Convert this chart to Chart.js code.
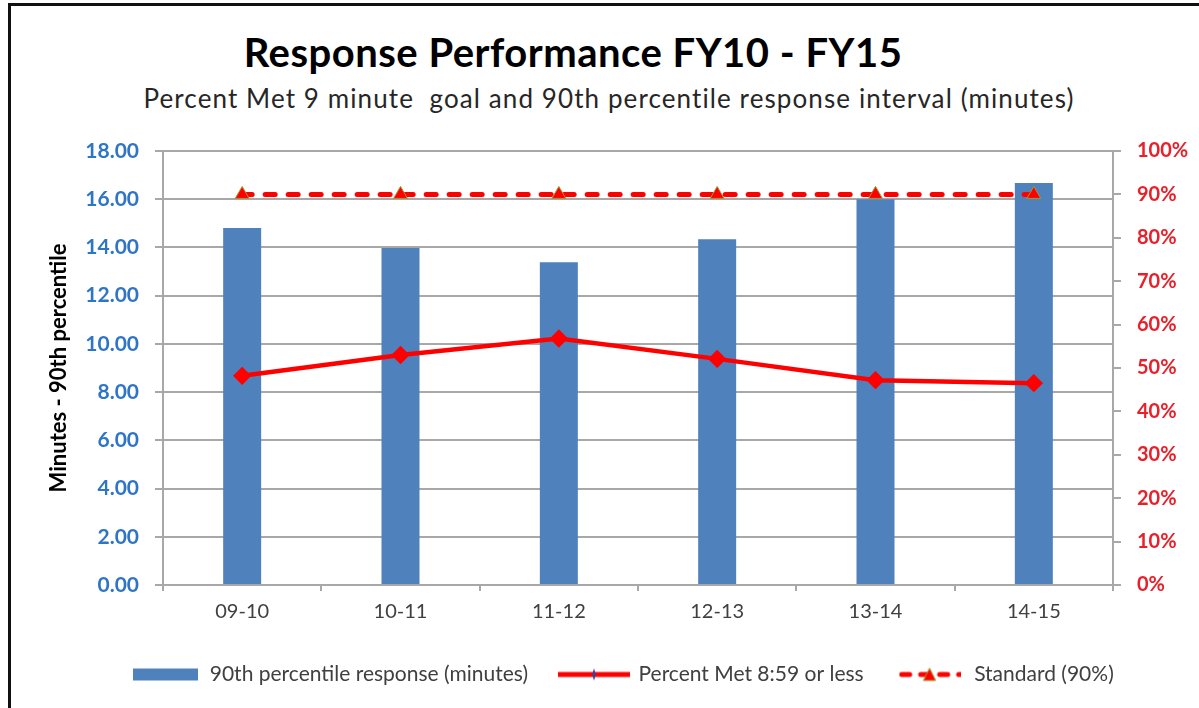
<!DOCTYPE html>
<html>
<head>
<meta charset="utf-8">
<script src="https://cdn.jsdelivr.net/npm/chart.js@4"></script>
<style>
  html, body { margin: 0; padding: 0; background: #fff; }
  #wrap { position: relative; width: 1199px; height: 708px; overflow: hidden; }
  #frame { position: absolute; left: 8px; top: 3px; width: 1300px; height: 800px;
           border-left: 3px solid #111; border-top: 3px solid #111; }
  .ttl { position: absolute; width: 1000px; text-align: center; font-family: Lato, sans-serif;
         line-height: 1.2; white-space: nowrap; }
  #title { left: 73px; top: 28px; font-size: 40px; font-weight: bold; color: #000; letter-spacing: 0.5px; }
  #subtitle { left: 109px; top: 83px; font-size: 26px; color: #262626; letter-spacing: 1.1px; }
  canvas { position: absolute; left: 0; top: 0; }
</style>
</head>
<body>
<div id="wrap">
  <div id="frame"></div>
  <div class="ttl" id="title">Response Performance FY10 - FY15</div>
  <div class="ttl" id="subtitle">Percent Met 9 minute&nbsp; goal and 90th percentile response interval (minutes)</div>
  <canvas id="comboChart" width="1199" height="708"></canvas>
</div>
<script>
// chart data
const categories = ['09-10', '10-11', '11-12', '12-13', '13-14', '14-15'];
const responseMinutes = [14.81, 13.98, 13.39, 14.34, 16.0, 16.67];
const percentMet = [48.2, 53.0, 56.8, 52.1, 47.2, 46.5];
const standardPct = [90, 90, 90, 90, 90, 90];
const seriesNames = ['90th percentile response (minutes)', 'Percent Met 8:59 or less', 'Standard (90%)'];

const BLUE = '#4f81bd';
const RED = '#ff0000';
const GRID = '#a8a8a8';

// little canvases for the legend icons
function legendIcon(w, h, draw) {
  const c = document.createElement('canvas');
  c.width = w; c.height = h;
  draw(c.getContext('2d'), w, h);
  return c;
}

const barIcon = legendIcon(65, 14, function (g, w, h) {
  g.fillStyle = BLUE;
  g.fillRect(0, 1, w, h - 2);
});

const lineIcon = legendIcon(72, 14, function (g, w, h) {
  g.strokeStyle = RED;
  g.lineWidth = 5;
  g.beginPath(); g.moveTo(0, h / 2); g.lineTo(w, h / 2); g.stroke();
  g.fillStyle = '#4a3d8f';
  g.beginPath();
  g.moveTo(w / 2, 1); g.lineTo(w / 2 + 2, h / 2); g.lineTo(w / 2, h - 1); g.lineTo(w / 2 - 2, h / 2);
  g.closePath(); g.fill();
});

const dashIcon = legendIcon(62, 16, function (g, w, h) {
  g.strokeStyle = RED;
  g.lineWidth = 5;
  g.lineCap = 'round';
  g.setLineDash([8, 11]);
  g.beginPath(); g.moveTo(3, h / 2); g.lineTo(w, h / 2); g.stroke();
  g.setLineDash([]);
  g.fillStyle = RED;
  g.strokeStyle = '#a09a30';
  g.lineWidth = 1;
  g.beginPath();
  g.moveTo(w / 2, 2); g.lineTo(w / 2 + 6, h - 2); g.lineTo(w / 2 - 6, h - 2);
  g.closePath(); g.fill(); g.stroke();
});

const ctx = document.getElementById('comboChart');

const comboChart = new Chart(ctx, {
  data: {
    labels: categories,
    datasets: [{
      type: 'line',
      label: seriesNames[2],
      data: standardPct,
      yAxisID: 'y1',
      borderColor: RED,
      borderWidth: 5,
      borderDash: [10, 13],
      borderCapStyle: 'round',
      pointStyle: 'triangle',
      pointRadius: 8,
      pointBackgroundColor: RED,
      pointBorderColor: '#a09a30',
      pointBorderWidth: 1,
      order: 1
    }, {
      type: 'line',
      label: seriesNames[1],
      data: percentMet,
      yAxisID: 'y1',
      borderColor: RED,
      borderWidth: 4.5,
      pointStyle: 'rectRot',
      pointRadius: 6,
      pointBackgroundColor: RED,
      pointBorderColor: RED,
      order: 2
    }, {
      type: 'bar',
      label: seriesNames[0],
      data: responseMinutes,
      yAxisID: 'y',
      backgroundColor: BLUE,
      barPercentage: 0.24,
      categoryPercentage: 1,
      order: 3
    }]
  },
  options: {
    responsive: false,
    animation: false,
    layout: {
      padding: { left: 46, right: 0, top: 151, bottom: 13 }
    },
    plugins: {
      title: { display: false },
      tooltip: { enabled: false },
      legend: {
        position: 'bottom',
        labels: {
          usePointStyle: true,
          pointStyleWidth: 68,
          padding: 32,
          color: '#404040',
          font: { family: 'Lato', size: 21 },
          generateLabels: function () {
            return [
              { text: seriesNames[0], pointStyle: barIcon, fontColor: '#404040', lineWidth: 0, strokeStyle: 'transparent', fillStyle: 'transparent' },
              { text: seriesNames[1], pointStyle: lineIcon, fontColor: '#404040', lineWidth: 0, strokeStyle: 'transparent', fillStyle: 'transparent' },
              { text: seriesNames[2], pointStyle: dashIcon, fontColor: '#404040', lineWidth: 0, strokeStyle: 'transparent', fillStyle: 'transparent' }
            ];
          }
        }
      }
    },
    scales: {
      x: {
        offset: true,
        afterFit: function (s) { s.height = 47; },
        grid: {
          display: true,
          offset: true,
          drawOnChartArea: false,
          color: GRID,
          lineWidth: 2,
          tickLength: 6
        },
        border: { color: GRID, width: 2 },
        ticks: {
          color: '#404040',
          padding: 9,
          font: { family: 'Lato', size: 20 }
        }
      },
      y: {
        position: 'left',
        min: 0,
        max: 18,
        afterFit: function (s) { s.width = 117; },
        title: {
          display: true,
          text: 'Minutes - 90th percentile',
          color: '#000',
          padding: { top: 0, bottom: 8 },
          font: { family: 'Lato', size: 22, weight: 'bold' }
        },
        grid: { color: GRID, lineWidth: 2, tickLength: 8 },
        border: { color: GRID, width: 2 },
        ticks: {
          stepSize: 2,
          padding: 16,
          color: '#2e75c6',
          font: { family: 'Lato', size: 21, weight: 'bold' },
          callback: function (v) { return v.toFixed(2); }
        }
      },
      y1: {
        position: 'right',
        min: 0,
        max: 100,
        afterFit: function (s) { s.width = 86; },
        grid: { drawOnChartArea: false, color: GRID, lineWidth: 2, tickLength: 8 },
        border: { color: GRID, width: 2 },
        ticks: {
          stepSize: 10,
          padding: 16,
          color: '#e8202a',
          font: { family: 'Lato', size: 20, weight: 'bold' },
          callback: function (v) { return v + '%'; }
        }
      }
    }
  }
});
</script>
</body>
</html>
